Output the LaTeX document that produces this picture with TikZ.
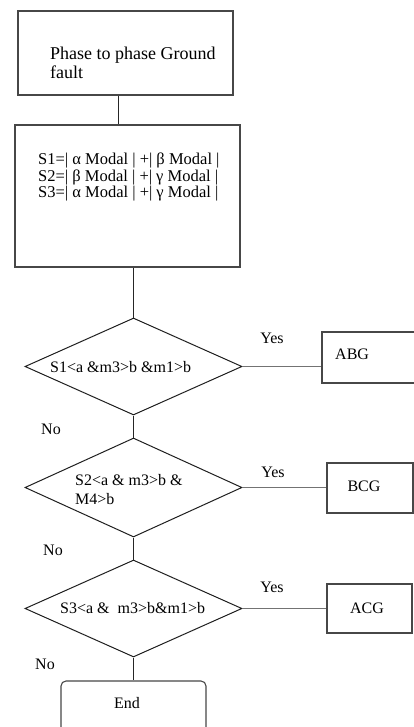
\documentclass[tikz,border=0pt]{standalone}
\usepackage{fontspec}
\setmainfont{Liberation Serif}
\usetikzlibrary{shapes.geometric}
\begin{document}
\begin{tikzpicture}[x=1pt,y=-1pt,
  box/.style={draw=black!72, line width=1.1pt, rectangle, inner sep=0pt},
  endbox/.style={box, rounded corners=5pt},
  dia/.style={draw=black!88, line width=1pt, diamond, inner sep=0pt, minimum width=217pt},
  txt/.style={inner sep=0pt, anchor=west, align=left, font=\fontsize{16}{19}\selectfont},
  btxt/.style={txt, font=\fontsize{18}{19}\selectfont},
  mtxt/.style={txt, font=\fontsize{16.5}{15}\selectfont},
  lbl/.style={inner sep=0pt, font=\fontsize{16}{19}\selectfont},
  conn/.style={draw=black!85, line width=0.9pt},
  hconn/.style={draw=black!55, line width=1.4pt}]
\useasboundingbox (0,0) rectangle (414,727);
\clip (0,0) rectangle (414,727);
\fill[white] (0,0) rectangle (414,727);

% boxes
\node[box, minimum width=215pt, minimum height=84pt] (b1) at (125.5,53) {};
\node[btxt] (t1) at (50,63) {Phase to phase Ground\\fault};

\node[box, minimum width=225pt, minimum height=142pt] (b2) at (127.5,196) {};
\node[mtxt] (t2) at (38,177) {S1=| α Modal | +| β Modal |\\S2=| β Modal | +| γ Modal |\\S3=| α Modal | +| γ Modal |};

% diamonds
\node[dia, minimum height=97pt] (d1) at (133.5,366.5) {};
\node[txt] (td1) at (50,367) {S1<a \&m3>b \&m1>b};

\node[dia, minimum height=99pt] (d2) at (133.5,487.5) {};
\node[txt] (td2) at (75,490) {S2<a \& m3>b \&\\M4>b};

\node[dia, minimum height=97pt] (d3) at (133.5,608.5) {};
\node[txt] (td3) at (60,608) {S3<a \&\ \ m3>b\&m1>b};

% result boxes
\node[box, minimum width=100pt, minimum height=51pt] (abg) at (372,357.5) {};
\node[txt] (tabg) at (335,354) {ABG};
\node[box, minimum width=86pt, minimum height=50pt] (bcg) at (370,488) {};
\node[lbl] (tbcg) at (364,486) {BCG};
\node[box, minimum width=85pt, minimum height=49pt] (acg) at (369.5,608.5) {};
\node[lbl] (tacg) at (367,608) {ACG};

% end box (cut by the lower edge)
\node[endbox, minimum width=145pt, minimum height=70pt] (e) at (133.5,716) {};
\node[lbl] (te) at (127,703) {End};

% labels
\node[lbl] (y1) at (272,338) {Yes};
\node[lbl] (y2) at (273,472) {Yes};
\node[lbl] (y3) at (272,587) {Yes};
\node[lbl] (n1) at (51,429) {No};
\node[lbl] (n2) at (53,550) {No};
\node[lbl] (n3) at (45,664) {No};

% connectors
\coordinate (k1) at (118,0);
\draw[conn] (k1 |- b1.south) -- (k1 |- b2.north);
\draw[conn] (d1.north |- b2.south) -- (d1.north);
\draw[conn] (d1.south) -- (d2.north);
\draw[conn] (d2.south) -- (d3.north);
\draw[conn] (d3.south) -- (d3.south |- e.north);
\draw[hconn] (d1.east) -- (d1.east -| abg.west);
\draw[hconn] (d2.east) -- (d2.east -| bcg.west);
\draw[hconn] (d3.east) -- (d3.east -| acg.west);
\end{tikzpicture}
\end{document}
